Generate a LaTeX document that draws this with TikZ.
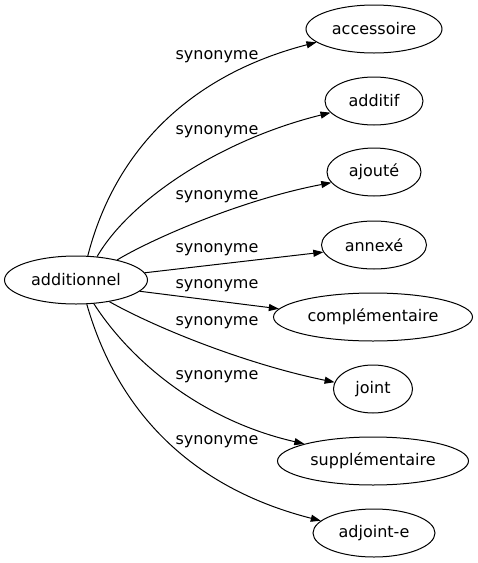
\documentclass[tikz,border=0pt]{standalone}
\usepackage{fontspec}
\setmainfont{DejaVu Sans}
\usetikzlibrary{shapes.geometric,arrows.meta}
\begin{document}
\begin{tikzpicture}[x=1pt,y=-1pt,
  mot/.style={draw,ellipse,line width=1pt,minimum height=48pt,inner sep=0pt,
    font=\fontsize{16}{19}\selectfont},
  syn/.style={font=\fontsize{16}{19}\selectfont},
  lien/.style={-{Triangle[length=10pt,width=7pt]},line width=1pt}]
\useasboundingbox (0,0) rectangle (478,563);

\node[mot,minimum width=143pt] (add) at (76,280) {additionnel};

\node[mot,minimum width=136pt] (acc) at (374,29) {accessoire};
\node[mot,minimum width=98pt] (adf) at (374,101) {additif};
\node[mot,minimum width=94pt] (ajo) at (374,172) {ajouté};
\node[mot,minimum width=105pt] (ann) at (374,245) {annexé};
\node[mot,minimum width=199pt] (comp) at (373,317) {complémentaire};
\node[mot,minimum width=79pt] (joint) at (373,389) {joint};
\node[mot,minimum width=191pt] (supp) at (373,461) {supplémentaire};
\node[mot,minimum width=122pt] (adj) at (374,533) {adjoint-e};

% liens
\draw[lien] (add.64) .. controls (115,150) and (190,75) .. (acc.193);
\draw[lien] (add.48) .. controls (130,200) and (220,140) .. (adf.195);
\draw[lien] (add.26) .. controls (150,240) and (240,200) .. (ajo.194);
\draw[lien] (add.6) -- (ann.188);
\draw[lien] (add.-10) -- (comp.175);
\draw[lien] (add.-33) .. controls (160,330) and (250,365) .. (joint.170);
\draw[lien] (add.-53) .. controls (130,360) and (200,420) .. (supp.166);
\draw[lien] (add.-66) .. controls (120,420) and (200,490) .. (adj.167);

\node[syn] (l1) at (217,57) {synonyme};
\node[syn] (l2) at (217,132) {synonyme};
\node[syn] (l3) at (217,197) {synonyme};
\node[syn] (l4) at (217,250) {synonyme};
\node[syn] (l5) at (217,286) {synonyme};
\node[syn] (l6) at (217,323) {synonyme};
\node[syn] (l7) at (217,377) {synonyme};
\node[syn] (l8) at (217,442) {synonyme};
\end{tikzpicture}
\end{document}
